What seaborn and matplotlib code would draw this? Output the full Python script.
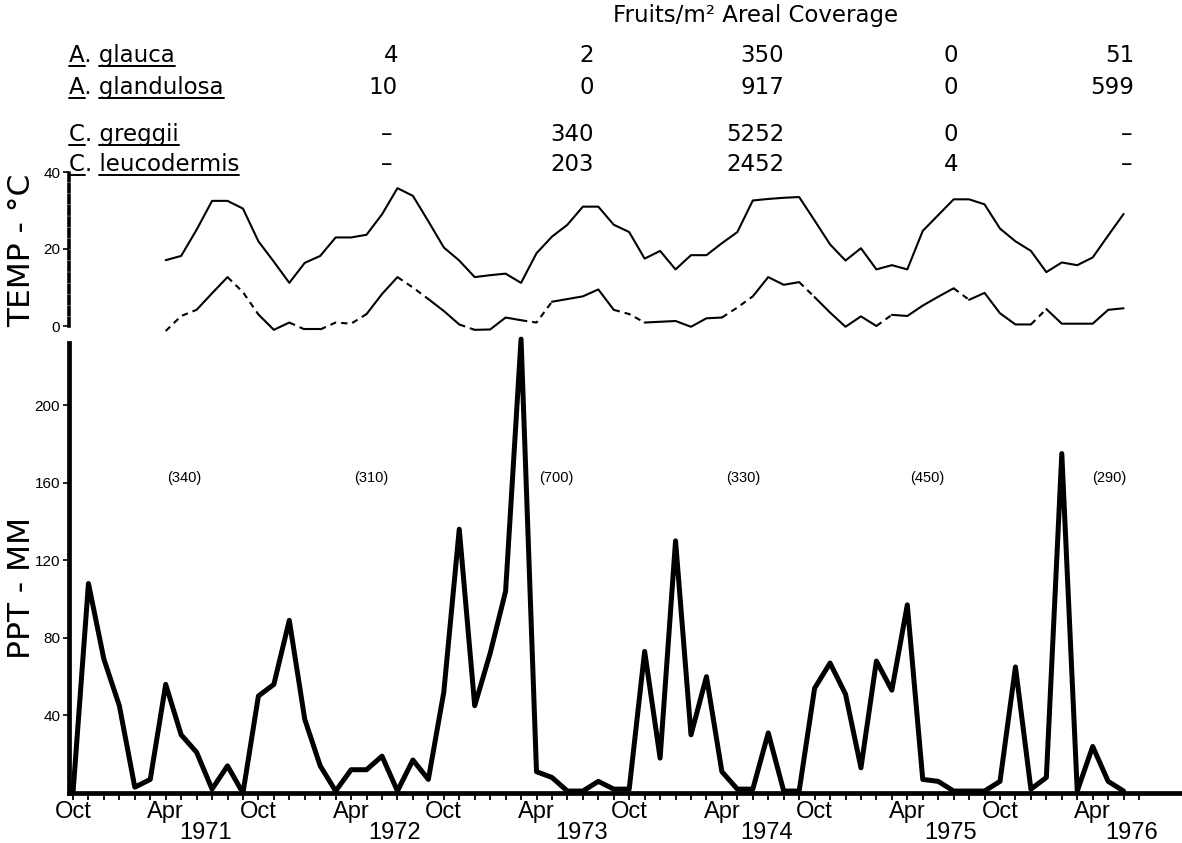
import numpy as np
import pandas as pd
import seaborn as sns
import matplotlib
matplotlib.use('Agg')
import matplotlib.pyplot as plt
import matplotlib.transforms as mtransforms
from matplotlib.lines import Line2D

# monthly precipitation (mm), Oct 1970 .. Jun 1976
ppt_mm = [0, 108, 69, 45, 3, 7, 56, 30, 21, 2, 14, 0,
          50, 56, 89, 38, 14, 1, 12, 12, 19, 1, 17, 7,
          52, 136, 45, 72, 104, 234, 11, 8, 1, 1, 6, 2,
          2, 73, 18, 130, 30, 60, 11, 2, 2, 31, 1, 1,
          54, 67, 51, 13, 68, 53, 97, 7, 6, 1, 1, 1,
          6, 65, 2, 8, 175, 1, 24, 6, 1]

# monthly max / min temperature (deg C), Apr 1971 .. Jun 1976
temp_start = 6  # months after Oct 1970
temp_max = [17.1, 18.2, 25, 32.5, 32.5, 30.5, 22, 16.7, 11.2,
            16.4, 18.2, 23, 23, 23.7, 29, 35.8, 33.8, 27.2, 20.4, 17, 12.7,
            13.2, 13.6, 11.2, 18.9, 23.2, 26.3, 31, 31, 26.3, 24.4, 17.5, 19.5,
            14.7, 18.4, 18.4, 21.5, 24.4, 32.6, 33, 33.3, 33.5, 27.4, 21.2, 17,
            20.2, 14.7, 15.8, 14.7, 24.7, 28.8, 32.9, 32.9, 31.6, 25.3, 22, 19.5,
            14, 16.5, 15.8, 17.8, 23.5, 29.1]
temp_min = [-1.3, 2.6, 4.2, 8.5, 12.7, 8.8, 3, -1, 0.9,
            -0.9, -0.9, 0.9, 0.6, 3.1, 8.3, 12.7, 10, 7, 3.9, 0.4, -1,
            -0.9, 2.2, 1.5, 0.9, 6.3, 7, 7.7, 9.5, 4.2, 3.1, 0.9, 1.1,
            1.3, -0.2, 2, 2.2, 4.8, 7.7, 12.7, 10.7, 11.4, 7.5, 3.5, -0.2,
            2.5, 0, 2.9, 2.6, 5.3, 7.6, 9.8, 6.8, 8.6, 3.3, 0.4, 0.4,
            4.4, 0.6, 0.6, 0.6, 4.2, 4.6]
# 1 = segment of the min line drawn dashed in the original
min_dashed = [1, 1, 0, 0, 1, 1, 0, 0, 1,
              0, 1, 1, 1, 0, 0, 1, 1, 0, 0, 1, 0,
              0, 0, 1, 1, 0, 0, 0, 0, 1, 1, 0, 0,
              0, 0, 0, 1, 1, 0, 0, 0, 1, 0, 0, 0,
              0, 1, 0, 0, 0, 0, 1, 0, 0, 0, 0, 1,
              0, 0, 0, 0, 0]

ppt_ticks = [40, 80, 120, 160, 200]
temp_ticks = [0, 20, 40]
annual_ppt = ['(340)', '(310)', '(700)', '(330)', '(450)', '(290)']
annual_pos = [7.2, 19.3, 31.3, 43.4, 55.3, 67.1]
years = ['1971', '1972', '1973', '1974', '1975', '1976']
year_pos = [8.6, 20.8, 32.9, 44.9, 56.8, 68.5]

genus = ['A', 'A', 'C', 'C']
epithet = ['glauca', 'glandulosa', 'greggii', 'leucodermis']
fruits = [['4', '2', '350', '0', '51'],
          ['10', '0', '917', '0', '599'],
          ['\u2013', '340', '5252', '0', '\u2013'],
          ['\u2013', '203', '2452', '4', '\u2013']]

# ---- layout (pixels) ----
W, H = 1182, 843
x_left = 68.5
x_oct70 = 73.0
px_month = 15.45

def fx(px):
    return px / W

def fy(py):
    return 1 - py / H

sns.set_theme(style='ticks', rc={'text.color': 'black', 'axes.labelcolor': 'black',
                                 'xtick.color': 'black', 'ytick.color': 'black',
                                 'axes.edgecolor': 'black'})
plt.rcParams['font.family'] = ['DejaVu Sans']
narrow = ['Liberation Sans Narrow', 'Liberation Sans', 'DejaVu Sans']
lib = ['Liberation Sans', 'DejaVu Sans']
tab_fs = 16.5

fig = plt.figure(figsize=(W / 100, H / 100), dpi=100)
fig.patch.set_facecolor('white')

ax_p = fig.add_axes([fx(x_left), fy(793), 1 - fx(x_left), (793 - 343) / H])
ax_t = fig.add_axes([fx(x_left), fy(326), 1 - fx(x_left), (326 - 172) / H])
xlim = ((x_left - x_oct70) / px_month, (W - x_oct70) / px_month)

# precipitation
ppt = pd.DataFrame({'month': np.arange(len(ppt_mm)), 'ppt': ppt_mm})
sns.lineplot(data=ppt, x='month', y='ppt', ax=ax_p, color='black', lw=3.6, clip_on=False)
ax_p.set_xlim(*xlim)
ax_p.set_ylim(0, 232)
ax_p.set_facecolor('none')
for s in ['top', 'right']:
    ax_p.spines[s].set_visible(False)
for s in ['left', 'bottom']:
    ax_p.spines[s].set_linewidth(3.4)
    ax_p.spines[s].set_color('black')
ax_p.set_xlabel('')
ax_p.set_ylabel('')
ax_p.set_yticks(ppt_ticks)
ax_p.set_yticklabels([str(v) for v in ppt_ticks], family=narrow, fontsize=11, color='black')
mticks = list(range(0, 70))
ax_p.set_xticks(mticks)
ax_p.set_xticklabels(['Oct' if m % 12 == 0 else ('Apr' if m % 12 == 6 else '') for m in mticks],
                     family=lib, fontsize=17, color='black')
ax_p.tick_params(axis='x', length=5, width=1.3, pad=1, color='black')
ax_p.tick_params(axis='y', length=4, width=1.2, pad=2, color='black')

for lab, m in zip(annual_ppt, annual_pos):
    ax_p.text(m, 162.5, lab, ha='center', va='center', fontsize=10.5, family=narrow, color='black')

ytrans = mtransforms.blended_transform_factory(ax_p.transData, fig.transFigure)
for lab, m in zip(years, year_pos):
    ax_p.text(m, fy(839), lab, transform=ytrans, ha='center', va='baseline',
              fontsize=17, family=lib, color='black')

# temperature
tm = np.arange(temp_start, temp_start + len(temp_max))
tdf = pd.DataFrame({'month': tm, 'tmax': temp_max, 'tmin': temp_min})
sns.lineplot(data=tdf, x='month', y='tmax', ax=ax_t, color='black', lw=1.5, clip_on=False)

start = 0
for i in range(1, len(min_dashed) + 1):
    if i == len(min_dashed) or min_dashed[i] != min_dashed[start]:
        seg = tdf.iloc[start:i + 1]
        ls = (0, (3.0, 2.4)) if min_dashed[start] else '-'
        sns.lineplot(data=seg, x='month', y='tmin', ax=ax_t, color='black', lw=1.5,
                     linestyle=ls, clip_on=False)
        start = i

ax_t.set_xlim(*xlim)
ax_t.set_ylim(0, 40)
ax_t.set_facecolor('none')
for s in ['top', 'right', 'bottom']:
    ax_t.spines[s].set_visible(False)
ax_t.spines['left'].set_linewidth(2.6)
ax_t.spines['left'].set_color('black')
ax_t.spines['left'].set_linestyle((0, (2.0, 1.1)))
ax_t.set_xticks([])
ax_t.set_xlabel('')
ax_t.set_ylabel('')
ax_t.set_yticks(temp_ticks)
ax_t.set_yticklabels([str(v) for v in temp_ticks], family=narrow, fontsize=11, color='black')
ax_t.tick_params(axis='y', length=4, width=1.2, pad=2, color='black')

# axis titles
fig.text(fx(22), fy(588), 'PPT - MM', rotation=90, ha='center', va='center',
         fontsize=22.5, color='black')
fig.text(fx(22), fy(250), 'TEMP - \u00b0C', rotation=90, ha='center', va='center',
         fontsize=22.5, color='black')

# fruit table
fig.text(fx(756), fy(22), 'Fruits/m\u00b2 Areal Coverage', ha='center', va='baseline',
         fontsize=tab_fs, color='black')
rows_y = [62, 94, 141, 171]
col_right = [398, 594, 784, 958, 1134]
col_dash = [387, 585, 770, 950, 1127]
renderer = fig.canvas.get_renderer()
for g, sp, vals, yb in zip(genus, epithet, fruits, rows_y):
    t = fig.text(fx(69), fy(yb), g + '. ' + sp, ha='left', va='baseline',
                 fontsize=tab_fs, color='black')
    bb = t.get_window_extent(renderer)
    prop = t.get_fontproperties()
    wg = renderer.get_text_width_height_descent(g, prop, ismath=False)[0]
    ws = renderer.get_text_width_height_descent(sp, prop, ismath=False)[0]
    yl = fy(yb + 4)
    for xa, xb in [(bb.x0, bb.x0 + wg), (bb.x1 - ws, bb.x1)]:
        fig.add_artist(Line2D([xa / W, xb / W], [yl, yl], color='black', lw=1.4,
                              transform=fig.transFigure))
    for v, xr, xc in zip(vals, col_right, col_dash):
        if v == '\u2013':
            fig.text(fx(xc), fy(yb), v, ha='center', va='baseline', fontsize=tab_fs, color='black')
        else:
            fig.text(fx(xr), fy(yb), v, ha='right', va='baseline', fontsize=tab_fs, color='black')

fig.savefig('out.png', dpi=100, facecolor='white')
